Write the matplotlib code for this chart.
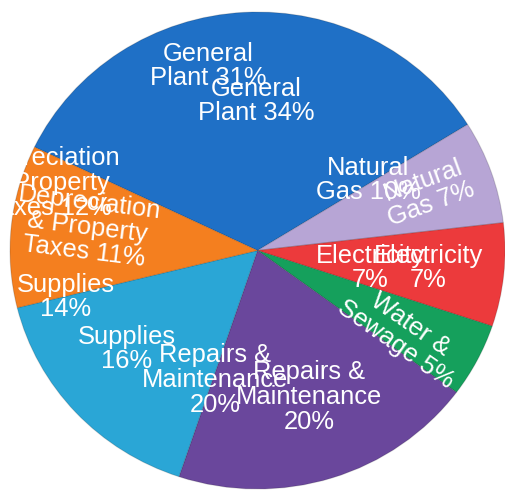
import matplotlib
matplotlib.use("Agg")
import matplotlib.pyplot as plt

plt.rcParams['font.family'] = ['Liberation Sans', 'DejaVu Sans']

# datos del grafico (porcentajes)
categorias = ["General\nPlant", "Natural\nGas", "Electricity\n", "Water &\nSewage",
              "Repairs &\nMaintenance\n", "Supplies\n", "Depreciation\n& Property\nTaxes"]
valores = [34, 7, 7, 5, 20, 16, 11]
colores = ["#1f70c6", "#b7a5d5", "#ec3a3c", "#15a05c", "#6a479c", "#2aa6d6", "#f47f1f"]

# etiquetas anteriores que quedaron encima
categorias_prev = ["General\nPlant", "Natural\nGas", "Electricity\n",
                   "Repairs &\nMaintenance\n", "Supplies\n", "Depreciation\n& Property\nTaxes"]
valores_prev = [31, 10, 7, 20, 14, 12]

# posiciones de etiquetas en pixeles (x, y desde arriba) y rotacion
pos_labels = [(256, 101, 0), (427, 192, 20), (428, 268, 0), (403, 334, -35),
              (309, 397, 0), (127, 349, 0), (87, 227, -7)]
pos_prev = [(208, 66, 0), (368, 180, 0), (370, 268, 0), (215, 380, 0),
            (66, 297, 0), (49, 183, 0)]

W, H = 505, 491
fig = plt.figure(figsize=(W / 100, H / 100), dpi=100)
ax = fig.add_axes([10 / W, 2 / H, 495 / W, 477 / H])
ax.pie(valores, colors=colores, startangle=154.3, counterclock=False,
       wedgeprops=dict(linewidth=0.8, edgecolor=(0, 0, 0, 0.15)))
ax.set_aspect('auto')
ax.set_xlim(-1, 1)
ax.set_ylim(-1, 1)
ax.axis('off')


def poner(texto, x, y, rot):
    fig.text(x / W, 1 - y / H, texto, color="white", fontsize=18.4,
             ha="center", va="center", rotation=rot, rotation_mode="anchor",
             linespacing=1.03, multialignment="center")


for cat, v, (x, y, r) in zip(categorias_prev, valores_prev, pos_prev):
    sep = "" if cat.endswith("\n") else " "
    poner(f"{cat}{sep}{v}%", x, y, r)

for cat, v, (x, y, r) in zip(categorias, valores, pos_labels):
    sep = "" if cat.endswith("\n") else " "
    poner(f"{cat}{sep}{v}%", x, y, r)

fig.savefig("out.png", dpi=100)
